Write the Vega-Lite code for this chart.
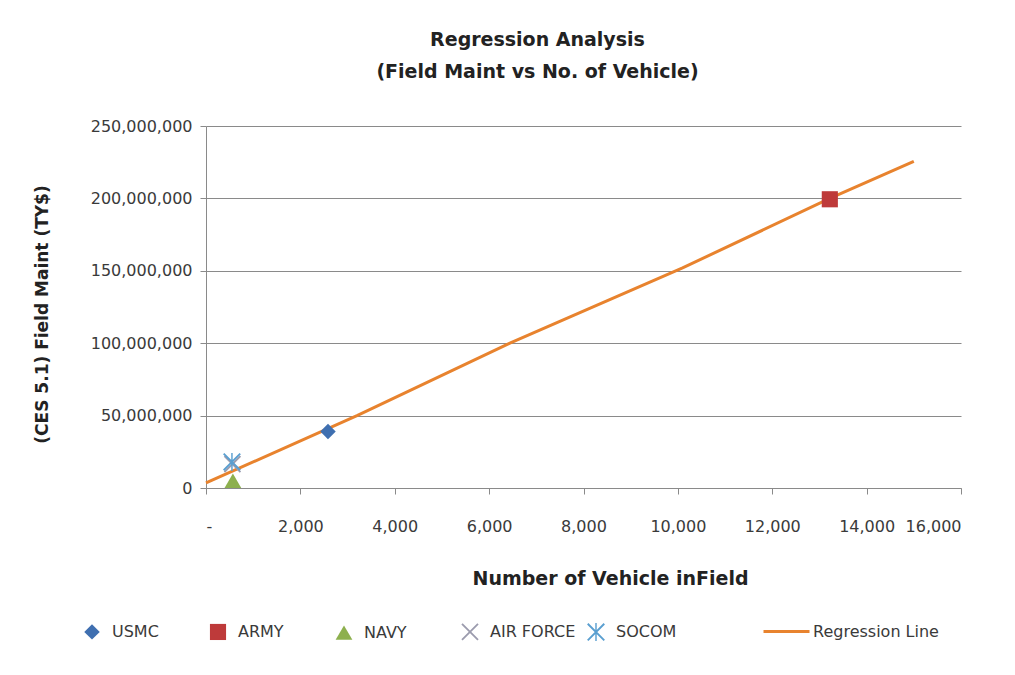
{
  "$schema": "https://vega.github.io/schema/vega-lite/v6.json",
  "width": 755,
  "height": 362,
  "autosize": {"type": "none"},
  "padding": {"left": 206, "top": 126, "right": 54, "bottom": 187},
  "background": "white",
  "config": {
    "font": "DejaVu Sans",
    "view": {"stroke": null},
    "axis": {"labelFont": "DejaVu Sans", "titleFont": "DejaVu Sans", "labelColor": "#3a3a3a", "titleColor": "#222222"},
    "legend": {"labelFont": "DejaVu Sans", "labelColor": "#3a3a3a"}
  },
  "title": {
    "text": ["Regression Analysis", "(Field Maint vs No. of Vehicle)"],
    "anchor": "middle",
    "frame": "group",
    "dx": -46,
    "offset": 36,
    "fontSize": 19,
    "fontWeight": "bold",
    "lineHeight": 32,
    "color": "#222222",
    "font": "DejaVu Sans"
  },
  "encoding": {
    "x": {
      "field": "vehicles", "type": "quantitative",
      "scale": {"domain": [0, 16000], "nice": false},
      "axis": {
        "values": [0, 2000, 4000, 6000, 8000, 10000, 12000, 14000, 16000],
        "labelExpr": "datum.value === 0 ? '-' : format(datum.value, ',')",
        "grid": false,
        "domainColor": "#8a8a8a",
        "tickColor": "#8a8a8a",
        "tickSize": 6,
        "labelPadding": 24,
        "labelFontSize": 16,
        "title": "Number of Vehicle inField",
        "titleFontSize": 19,
        "titleFontWeight": "bold",
        "titleX": 404,
        "titleY": 90,
        "titleBaseline": "middle",
        "titleAlign": "center"
      }
    },
    "y": {
      "field": "maint", "type": "quantitative",
      "scale": {"domain": [0, 250000000], "nice": false},
      "axis": {
        "values": [0, 50000000, 100000000, 150000000, 200000000, 250000000],
        "labelExpr": "format(datum.value, ',')",
        "grid": true,
        "gridColor": "#8a8a8a",
        "domainColor": "#8a8a8a",
        "tickColor": "#8a8a8a",
        "tickSize": 6,
        "labelPadding": 8,
        "labelFontSize": 16,
        "title": "(CES 5.1) Field Maint (TY$)",
        "titleFontSize": 17,
        "titleFontWeight": "bold",
        "titleX": -164,
        "titleY": 188,
        "titleAngle": -90,
        "titleBaseline": "middle",
        "titleAlign": "center"
      }
    }
  },
  "layer": [
    {
      "data": {
        "values": [
          {"vehicles": 0, "maint": 3500000, "line": "Regression Line"},
          {"vehicles": 3200, "maint": 50000000, "line": "Regression Line"},
          {"vehicles": 6440, "maint": 100000000, "line": "Regression Line"},
          {"vehicles": 10100, "maint": 152000000, "line": "Regression Line"},
          {"vehicles": 13220, "maint": 200000000, "line": "Regression Line"},
          {"vehicles": 15000, "maint": 225500000, "line": "Regression Line"}
        ]
      },
      "mark": {"type": "line", "strokeWidth": 3},
      "encoding": {
        "stroke": {
          "field": "line", "type": "nominal",
          "scale": {"domain": ["Regression Line"], "range": ["#E8832E"]},
          "legend": {
            "orient": "none",
            "legendX": 556,
            "legendY": 481,
            "title": null,
            "symbolType": "stroke",
            "symbolSize": 2116,
            "symbolStrokeWidth": 3,
            "labelOffset": 2,
            "labelFontSize": 16
          }
        }
      }
    },
    {
      "data": {
        "values": [
          {"vehicles": 2585, "maint": 39000000, "series": "USMC"},
          {"vehicles": 13220, "maint": 199400000, "series": "ARMY"},
          {"vehicles": 570, "maint": 5000000, "series": "NAVY"},
          {"vehicles": 560, "maint": 16500000, "series": "AIR FORCE"},
          {"vehicles": 550, "maint": 18000000, "series": "SOCOM"}
        ]
      },
      "mark": {"type": "point", "filled": true, "opacity": 1},
      "encoding": {
        "color": {
          "field": "series", "type": "nominal",
          "scale": {
            "domain": ["USMC", "ARMY", "NAVY", "AIR FORCE", "SOCOM"],
            "range": ["#3F6FB0", "#BE3A3A", "#8DB04E", "#9C9CAE", "#5A9FD0"]
          },
          "legend": {
            "orient": "none",
            "legendX": -124,
            "legendY": 496,
            "direction": "horizontal",
            "columns": 5,
            "gridAlign": "all",
            "columnPadding": 8,
            "title": null,
            "symbolSize": 150,
            "symbolOpacity": 1,
            "labelOffset": 10,
            "labelFontSize": 16
          }
        },
        "shape": {
          "field": "series", "type": "nominal",
          "scale": {
            "domain": ["USMC", "ARMY", "NAVY", "AIR FORCE", "SOCOM"],
            "range": [
              "diamond",
              "square",
              "triangle-up",
              "M-1,-0.85L-0.85,-1L1,0.85L0.85,1ZM0.85,-1L1,-0.85L-0.85,1L-1,0.85Z",
              "M-1,-0.85L-0.85,-1L1,0.85L0.85,1ZM0.85,-1L1,-0.85L-0.85,1L-1,0.85ZM-0.08,-1L0.08,-1L0.08,1L-0.08,1Z"
            ]
          }
        },
        "size": {
          "field": "series", "type": "nominal",
          "scale": {
            "domain": ["USMC", "ARMY", "NAVY", "AIR FORCE", "SOCOM"],
            "range": [240, 320, 200, 200, 220]
          },
          "legend": null
        }
      }
    }
  ]
}
